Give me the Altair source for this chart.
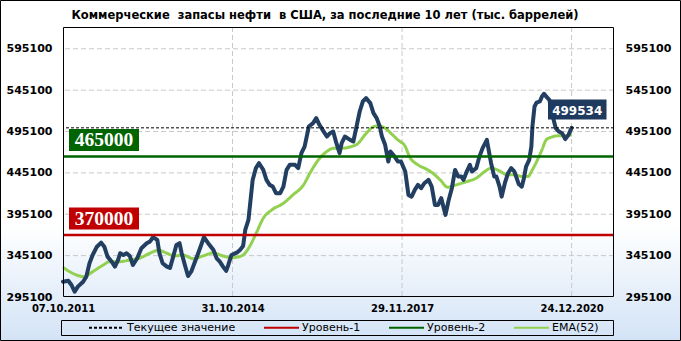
import altair as alt
import pandas as pd

# ---------------- data ----------------
title_text = "Коммерческие\u00a0 запасы нефти\u00a0 в США, за последние 10 лет (тыс. баррелей)"

x_tick_idx = [0, 160, 320, 480]
x_tick_labels = ["07.10.2011", "31.10.2014", "29.11.2017", "24.12.2020"]
y_ticks = [295100, 345100, 395100, 445100, 495100, 545100, 595100]

blue_idx = [0, 5, 8, 11, 14, 19, 22, 25, 28, 32,
            36, 39, 42, 46, 49, 52, 54, 57, 60, 63,
            66, 70, 74, 79, 82, 85, 89, 91, 94, 98,
            101, 104, 107, 110, 112, 115, 118, 121, 124, 127,
            131, 133, 137, 142, 145, 148, 151, 154, 156, 159,
            164, 167, 170, 172, 175, 177, 179, 182, 185, 189,
            192, 195, 198, 201, 205, 208, 211, 214, 219, 222,
            225, 228, 230, 232, 236, 239, 242, 245, 249, 252,
            255, 258, 261, 263, 266, 271, 274, 277, 280, 283,
            286, 290, 293, 296, 299, 301, 304, 307, 309, 313,
            316, 319, 323, 326, 329, 332, 335, 338, 341, 345,
            348, 351, 354, 357, 359, 361, 364, 367, 370, 373,
            376, 378, 381, 384, 386, 390, 393, 396, 400, 402,
            404, 407, 409, 412, 414, 417, 420, 423, 426, 430,
            433, 435, 437, 440, 442, 443, 445, 447, 450, 452,
            454, 456, 459, 461, 463, 465, 468, 471, 474, 477,
            480]
blue_val = [313600, 314800, 309600, 301500, 307600, 313600, 319700, 335900, 345900, 355900,
            360800, 355900, 343900, 337800, 331800, 339900, 348000, 345900, 348000, 344700,
            333800, 341900, 354000, 360100, 362000, 367300, 364100, 348000, 335900, 331800,
            330200, 343900, 358000, 360100, 348000, 333800, 320500, 325700, 335900, 345900,
            360100, 367300, 360100, 352000, 341900, 337800, 331800, 326600, 333800, 345900,
            348700, 352000, 356800, 376200, 388200, 412400, 436600, 450800, 456800, 448700,
            436600, 430600, 428500, 420500, 420500, 428500, 448700, 454800, 454800, 450800,
            468900, 476900, 489000, 501100, 505200, 511300, 503200, 497100, 489000, 493100,
            495100, 481000, 468900, 481000, 489000, 485000, 483000, 501100, 519300, 531400,
            535500, 529400, 517300, 511300, 501100, 489000, 479000, 458800, 470900, 464800,
            458800, 458800, 446700, 418500, 416400, 424500, 430600, 426600, 432600, 436600,
            428500, 406400, 406400, 414500, 404300, 394300, 412400, 426600, 448700, 440600,
            440600, 436600, 446700, 454800, 446700, 450800, 464800, 475000, 485000, 470900,
            456800, 440600, 440600, 428500, 416400, 432600, 444700, 450800, 446700, 431800,
            428500, 438700, 452700, 460800, 476900, 501100, 525300, 530100, 531400, 537400,
            540700, 537400, 533400, 521300, 509200, 499200, 495100, 493100, 485900, 491100,
            499534]

ema_idx = [0, 9, 20, 28, 38, 44, 54, 63, 72, 82,
           90, 98, 105, 113, 123, 132, 142, 151, 159, 167,
           170, 176, 183, 189, 197, 208, 217, 227, 233, 241,
           247, 256, 264, 272, 278, 285, 291, 297, 304, 310,
           316, 323, 327, 335, 343, 349, 356, 363, 371, 381,
           390, 398, 404, 412, 419, 426, 434, 439, 442, 447,
           452, 456, 461, 467, 474, 480]
ema_val = [331000, 323800, 319700, 325700, 333800, 337800, 337800, 339900, 341900, 348000,
           351600, 348000, 344700, 345900, 341400, 344700, 348300, 344700, 342600, 344100,
           345900, 355900, 374100, 390300, 400300, 408400, 418500, 430600, 444700, 460800,
           468900, 475000, 475000, 476900, 480200, 491100, 499200, 502000, 499200, 492300,
           485000, 476900, 464800, 454800, 449600, 444700, 436600, 427800, 430600, 434600,
           438700, 446700, 450800, 447500, 442700, 442700, 440600, 440600, 446700, 458800,
           472900, 485000, 488300, 489900, 489900, 491100]

level_names = ["Текущее значение", "Уровень-1", "Уровень-2"]
level_values = [499534, 370000, 465000]

legend_names = ["Текущее значение", "Уровень-1", "Уровень-2", "EMA(52)"]
legend_colors = ["#000000", "#c00000", "#006400", "#92d050"]
legend_dashes = [[3, 2], [1, 0], [1, 0], [1, 0]]

# ---------------- frames ----------------
series_df = pd.DataFrame({"i": blue_idx, "v": blue_val})
ema_df = pd.DataFrame({"i": ema_idx, "v": ema_val, "name": ["EMA(52)"] * len(ema_idx)})
level_df = pd.DataFrame({"name": level_names, "value": level_values})
xgrid_df = pd.DataFrame({"i": x_tick_idx[1:]})
ygrid_df = pd.DataFrame({"v": y_ticks})
one_df = pd.DataFrame({"a": [0]})

W, H = 551, 270
FONT = "DejaVu Sans"
SERIES = "#223e60"

yscale = alt.Scale(domain=[295100, 621400], nice=False, zero=False)
xscale = alt.Scale(domain=[0, 520], nice=False, zero=False)

label_expr = ("[" + ",".join("'%s'" % s for s in x_tick_labels) + "][indexof(["
              + ",".join(str(v) for v in x_tick_idx) + "], datum.value)]")
x_axis = alt.Axis(values=x_tick_idx, labelExpr=label_expr, title=None, ticks=False,
                  domain=False, grid=False, labelFont=FONT, labelFontSize=10,
                  labelFontWeight="bold", labelColor="black", labelPadding=6,
                  labelFlush=False, labelOverlap=False, zindex=1)


def X(field):
    return alt.X(field, type="quantitative", scale=xscale, axis=x_axis)


def Y(field, axis=None):
    return alt.Y(field, type="quantitative", scale=yscale, axis=axis)


def yaxis(orient):
    return alt.Axis(orient=orient, values=y_ticks, format="d", title=None, ticks=False,
                    domain=False, grid=False, labelFont=FONT, labelFontSize=11,
                    labelFontWeight="bold", labelColor="black", labelPadding=11,
                    labelOverlap=False, zindex=1)


LEG = alt.Legend(orient="none", legendX=25, legendY=282, direction="horizontal",
                 title=None, symbolType="stroke", symbolSize=1225, symbolStrokeWidth=2,
                 labelFont=FONT, labelFontSize=11, labelColor="black", labelOffset=2,
                 columnPadding=24, padding=0, zindex=1)
color_enc = alt.Color("name:N", scale=alt.Scale(domain=legend_names, range=legend_colors), legend=LEG)
dash_enc = alt.StrokeDash("name:N", scale=alt.Scale(domain=legend_names, range=legend_dashes), legend=LEG)

gradient = alt.LinearGradient(
    gradient="linear",
    stops=[alt.GradientStop(color="#ffffff", offset=0),
           alt.GradientStop(color="#ffffff", offset=0.66),
           alt.GradientStop(color="#d3e3f6", offset=1)],
    x1=0, x2=0, y1=0, y2=1)

background = alt.Chart(one_df).mark_rect(fill=gradient, stroke="black", strokeWidth=1).encode(
    x=alt.value(-62.5), x2=alt.value(617.5), y=alt.value(-26.5), y2=alt.value(313.5))

title_mark = alt.Chart(one_df).mark_text(
    font=FONT, fontSize=11.5, fontWeight="bold", color="black", align="center",
    baseline="alphabetic").encode(x=alt.value(262), y=alt.value(-8), text=alt.value(title_text))

hgrid = alt.Chart(ygrid_df).transform_filter(alt.datum.v > 295100).mark_rule(
    color="#c8c8c8", strokeDash=[5, 3], strokeWidth=1).encode(y=Y("v", yaxis("right")))

vgrid = alt.Chart(xgrid_df).mark_rule(color="#c8c8c8", strokeDash=[5, 3], strokeWidth=1).encode(
    x=X("i"))

ema = alt.Chart(ema_df).mark_line(strokeWidth=3, interpolate="monotone").encode(
    x=X("i"), y=Y("v"), color=color_enc, strokeDash=dash_enc)

series = alt.Chart(series_df).mark_line(color=SERIES, strokeWidth=4, strokeJoin="round",
                                        strokeCap="round").encode(
    x=X("i"), y=Y("v", yaxis("left")))

levels = alt.Chart(level_df).transform_filter(alt.datum.name != level_names[0]).mark_rule(
    strokeWidth=2.5).encode(y=Y("value"), color=color_enc, strokeDash=dash_enc)

current = alt.Chart(level_df).transform_filter(alt.datum.name == level_names[0]).mark_rule(
    strokeWidth=1).encode(y=Y("value"), color=color_enc, strokeDash=dash_enc)

layers = [background, title_mark, hgrid, vgrid, ema, series, levels, current]

for k in (2, 1):
    nm = level_names[k]
    col = legend_colors[legend_names.index(nm)]
    box = alt.Chart(level_df).transform_filter(alt.datum.name == nm).mark_rule(
        color=col, strokeWidth=22, strokeCap="butt", yOffset=-16.5).encode(
        x=alt.value(6), x2=alt.value(76), y=Y("value"))
    txt = alt.Chart(level_df).transform_filter(alt.datum.name == nm).mark_text(
        font="Liberation Serif", fontSize=19.5, fontWeight="bold", color="white",
        align="center", baseline="alphabetic", dy=-10).encode(
        x=alt.value(41), y=Y("value"), text=alt.Text("value:Q", format="d"))
    layers += [box, txt]

cur_box = alt.Chart(level_df).transform_filter(alt.datum.name == level_names[0]).mark_rule(
    color="#1f3a5f", strokeWidth=20, strokeCap="butt", yOffset=-18.3).encode(
    x=alt.value(485), x2=alt.value(543.5), y=Y("value"))
cur_txt = alt.Chart(level_df).transform_filter(alt.datum.name == level_names[0]).mark_text(
    font=FONT, fontSize=12, fontWeight="bold", color="white", align="center",
    baseline="alphabetic", dy=-13.3).encode(
    x=alt.value(514.2), y=Y("value"), text=alt.Text("value:Q", format="d"))

frame = alt.Chart(one_df).mark_rect(fillOpacity=0, stroke="black", strokeWidth=1).encode(
    x=alt.value(0.5), x2=alt.value(W - 0.5), y=alt.value(0.5), y2=alt.value(H - 0.5))
legend_box = alt.Chart(one_df).mark_rect(fillOpacity=0, stroke="black", strokeWidth=1).encode(
    x=alt.value(-1.5), x2=alt.value(550.5), y=alt.value(293.5), y2=alt.value(308.5))

layers += [cur_box, cur_txt, frame, legend_box]

chart = alt.layer(*layers).resolve_scale(y="independent").properties(
    width=W, height=H,
    padding={"left": 63, "top": 27, "right": 67, "bottom": 44},
    autosize=alt.AutoSizeParams(type="none"),
).configure_view(stroke=None).configure(background="white")

chart.save("out.html", embed_options={"renderer": "svg", "actions": False})
